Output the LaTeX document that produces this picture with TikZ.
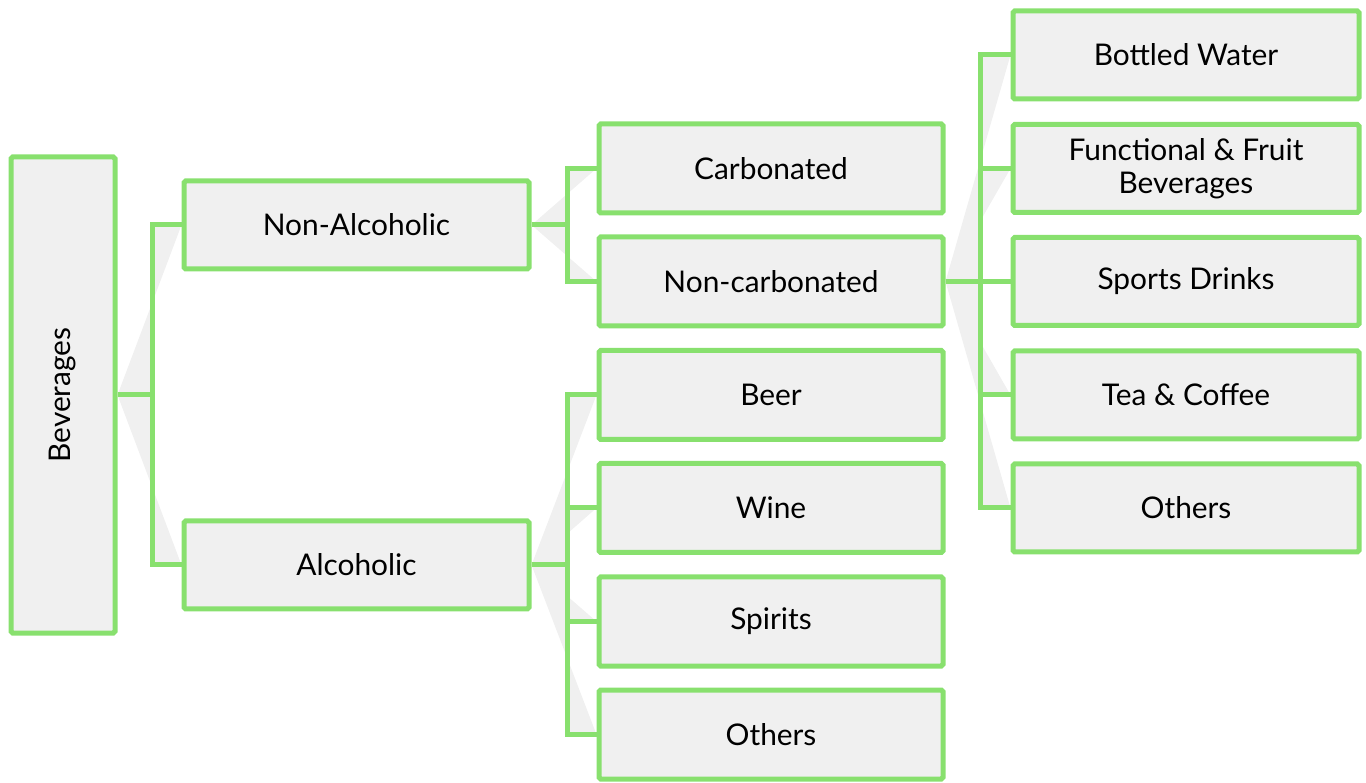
\documentclass[tikz,border=0pt]{standalone}
\usepackage{fontspec}
\setmainfont{Lato}
\usetikzlibrary{positioning,backgrounds}
\definecolor{boxgreen}{RGB}{136,224,110}
\definecolor{boxgrey}{RGB}{240,240,240}
\tikzset{
    % caselle del diagramma
    catbox/.style={draw=boxgreen, fill=boxgrey, line width=5*0.02cm,
                   rounded corners=1pt, align=center, inner sep=2pt,
                   font=\fontsize{17}{19}\selectfont},
    rootbox/.style={catbox, minimum width=104*0.02cm, minimum height=476*0.02cm},
    lvlone/.style={catbox, minimum width=345*0.02cm, minimum height=88*0.02cm},
    lvltwo/.style={catbox, minimum width=344*0.02cm, minimum height=89*0.02cm},
    lvlthree/.style={catbox, minimum width=346*0.02cm, minimum height=88*0.02cm},
    % collegamenti a gomito e ombra
    elbow/.style={draw=boxgreen, line width=5*0.02cm},
    wedge/.style={fill=boxgrey}
}
\newcommand{\linkto}[3]{%
    \fill[wedge] (#1.east) -- ++(#3,0) |- (#2.west) -- cycle;
    \draw[elbow] (#1.east) -- ++(#3,0) |- (#2.west);
}

\begin{document}
\begin{tikzpicture}[x=0.02cm,y=-0.02cm]
    \useasboundingbox (0,0) rectangle (1366,783);
    % radice
    \node[rootbox] (bev) at (63,395) {\rotatebox{90}{Beverages}};
    % primo livello
    \node[lvlone] (nonalc) at (356.5,225) {Non-Alcoholic};
    \node[lvlone] (alc) at (356.5,565) {Alcoholic};
    % secondo livello
    \node[lvltwo] (carb) at (771,168.5) {Carbonated};
    \node[lvltwo] (noncarb) at (771,281.5) {Non-carbonated};
    \node[lvltwo] (beer) at (771,395) {Beer};
    \node[lvltwo] (wine) at (771,508) {Wine};
    \node[lvltwo] (spirits) at (771,621.5) {Spirits};
    \node[lvltwo] (alcother) at (771,734.5) {Others};
    % terzo livello
    \node[lvlthree] (water) at (1186,55) {Bottled Water};
    \node[lvlthree] (fruit) at (1186,168.5) {Functional \& Fruit\\Beverages};
    \node[lvlthree] (sports) at (1186,281.5) {Sports Drinks};
    \node[lvlthree] (tea) at (1186,395) {Tea \& Coffee};
    \node[lvlthree] (nonother) at (1186,508) {Others};

    \begin{scope}[on background layer]
        \linkto{bev}{nonalc}{35}
        \linkto{bev}{alc}{35}
        \linkto{nonalc}{carb}{36}
        \linkto{nonalc}{noncarb}{36}
        \foreach \c in {beer,wine,spirits,alcother}
            {\linkto{alc}{\c}{36}}
        \foreach \c in {water,fruit,sports,tea,nonother}
            {\linkto{noncarb}{\c}{35}}
    \end{scope}
\end{tikzpicture}
\end{document}
